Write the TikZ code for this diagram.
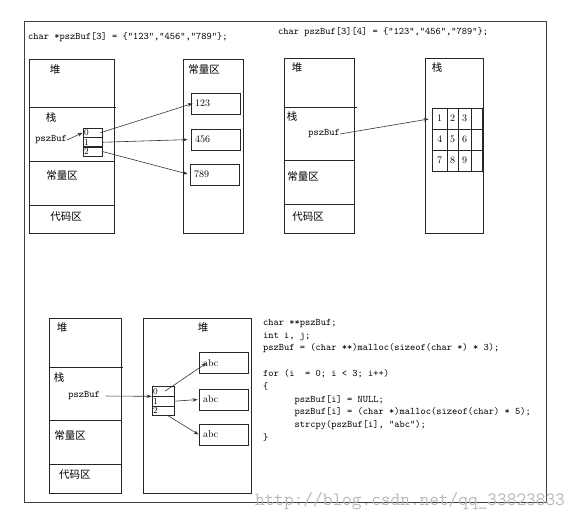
\documentclass[tikz,border=0pt]{standalone}
\usepackage{fontspec}
\newfontfamily\cjk{Noto Sans CJK SC}
\usetikzlibrary{arrows.meta}
\begin{document}
\begin{tikzpicture}[x=1pt,y=-1pt,
box/.style={draw=black!85,line width=0.8pt},
zh/.style={font=\cjk\fontsize{10.5}{12}\selectfont,inner sep=0pt},
code/.style={font=\ttfamily\fontsize{10}{12.8}\selectfont,inner sep=0pt,align=left},
cell/.style={draw=black!85,line width=0.7pt,minimum height=9.5pt,inner sep=1pt,align=left,font=\rmfamily\fontsize{9}{9}\selectfont},
val/.style={draw=black!85,line width=0.8pt,minimum height=21pt,text width=41pt,inner sep=4pt,align=left,font=\rmfamily\fontsize{10}{10}\selectfont},
gcell/.style={draw=black!85,line width=0.7pt,minimum height=21pt,inner sep=0pt,font=\rmfamily\fontsize{10}{10}\selectfont},
arr/.style={draw=black!80,line width=0.6pt,-{Stealth[length=5pt,width=3.6pt]}}]
\useasboundingbox (0,0) rectangle (582,523);
\draw[black!75,line width=0.6pt] (24,21) rectangle (546,502);

\node[code,anchor=west] (t1) at (28,37) {char *pszBuf[3] = \{"123","456","789"\};};
\draw[box] (29,59) rectangle (114,233);
\draw[box] (29,107) -- (116,107) (29,161) -- (114,161) (29,205) -- (114,205);
\node[zh] (h1) at (55,70) {堆};
\node[zh] (s1) at (51,118) {栈};
\node[code] (ps1) at (51,140) {pszBuf};
\node[zh] (k1) at (62,175) {常量区};
\node[zh] (d1) at (66,217) {代码区};
\node[cell,text width=17pt] (p0) at (92.5,132.75) {0};
\node[cell,text width=17pt] (p1) at (92.5,142.25) {1};
\node[cell,text width=17pt] (p2) at (92.5,151.5) {2};
\draw[box] (183,59) rectangle (243,233);
\node[zh] (k2) at (204,70) {常量区};
\node[val] (c1) at (215.5,103.5) {123};
\node[val] (c2) at (215.5,139.5) {456};
\node[val] (c3) at (214.5,174.5) {789};
\draw[arr] (ps1.east) -- (p0.west);
\draw[arr] ([xshift=-2pt]p0.east) -- ([xshift=2pt]c1.west);
\draw[arr,shorten >=3pt] (p1.east) -- (c2.west);
\draw[arr,shorten >=2pt] (p2.east) -- (c3.west);

\node[code,anchor=west] (t2) at (278,32) {char pszBuf[3][4] = \{"123","456","789"\};};
\draw[box] (284,58) rectangle (354,233);
\draw[box] (284,107) -- (357,107) (284,160) -- (354,160) (284,204) -- (354,204);
\node[zh] (h2) at (297,68) {堆};
\node[zh] (s2) at (292,117) {栈};
\node[code] (ps2) at (324,134) {pszBuf};
\node[zh] (k3) at (303,176) {常量区};
\node[zh] (d2) at (308,217) {代码区};
\draw[box] (425,58) rectangle (483,233);
\node[zh] (s3) at (437,68) {栈};
\foreach \r/\y/\a/\b/\c in {1/118.5/1/2/3,2/139.5/4/5/6,3/160.5/7/8/9} {
  \node[gcell,minimum width=15pt] (g\r1) at (439.5,\y) {\a};
  \node[gcell,minimum width=11pt] (g\r2) at (452.5,\y) {\b};
  \node[gcell,minimum width=13pt] (g\r3) at (464.5,\y) {\c};
  \node[gcell,minimum width=11pt] (g\r4) at (476.5,\y) {};
}
\draw[arr,shorten >=3pt] (ps2.east) -- (g11.west);

\draw[box] (49,318) rectangle (121,493);
\draw[box] (49,367) -- (123,367) (49,420) -- (121,420) (49,464) -- (121,464);
\node[zh] (h3) at (62,328) {堆};
\node[zh] (s4) at (59,378) {栈};
\node[code] (ps3) at (84,396) {pszBuf};
\node[zh] (k4) at (70,435) {常量区};
\node[zh] (d3) at (75,475) {代码区};
\draw[box] (143,318) rectangle (251,493);
\node[zh] (h4) at (203,328) {堆};
\node[cell,text width=20pt] (q0) at (163,391.2) {0};
\node[cell,text width=20pt] (q1) at (163,401.2) {1};
\node[cell,text width=20pt] (q2) at (163,410.6) {2};
\node[val] (a1) at (223.5,363) {abc};
\node[val] (a2) at (223.5,399.5) {abc};
\node[val] (a3) at (223.5,434.5) {abc};
\draw[arr,shorten <=6pt] (ps3.east) -- (q0.south west);
\draw[arr] ([xshift=2pt]q0.center) -- ([xshift=8pt]a1.west);
\draw[arr,shorten >=1pt] (q1.east) -- (a2.west);
\draw[arr] ([xshift=5pt]q2.south) -- (a3.west);

\node[code,anchor=north west] (src) at (263,319) {char **pszBuf;\\
int i, j;\\
pszBuf = (char **)malloc(sizeof(char *) * 3);\\
\strut\\
for (i\ \ = 0; i < 3; i++)\\
\{\\
\hspace*{31.5pt}pszBuf[i] = NULL;\\
\hspace*{31.5pt}pszBuf[i] = (char *)malloc(sizeof(char) * 5);\\
\hspace*{31.5pt}strcpy(pszBuf[i], "abc");\\
\}};

\node[font=\ttfamily\fontsize{18.8}{20}\selectfont,text=black!28,inner sep=0pt] (wm) at (410,501) {http://blog.csdn.net/qq\_33823833};
\end{tikzpicture}
\end{document}
